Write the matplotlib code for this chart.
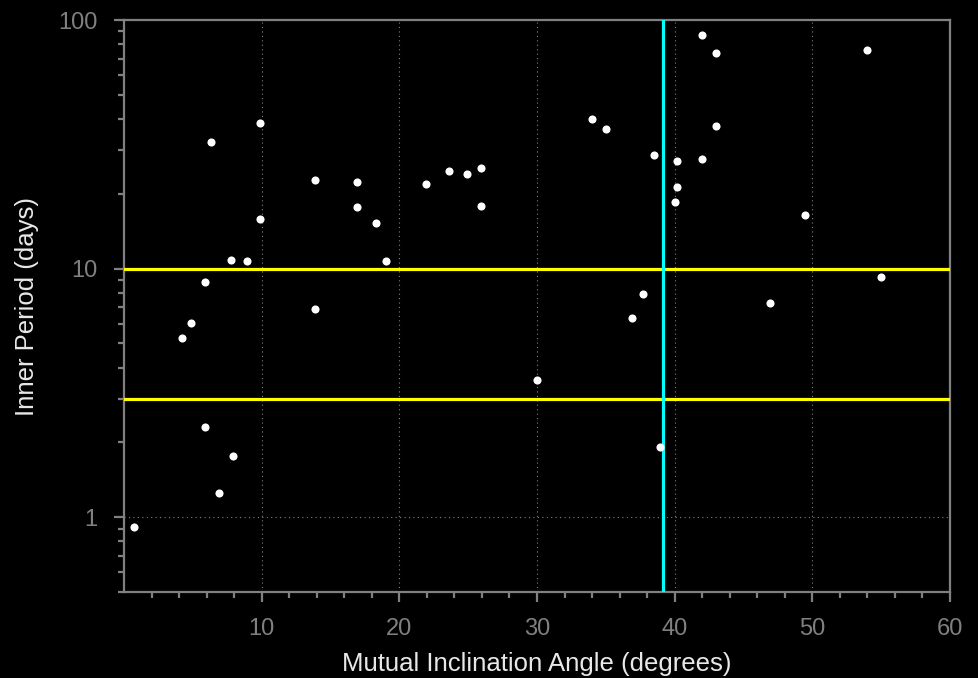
import matplotlib
matplotlib.use('Agg')
import matplotlib.pyplot as plt
import numpy as np
from matplotlib.ticker import LogLocator, FixedLocator, NullFormatter

# mutual inclination angle (degrees) and inner period (days)
inclination = [0.7, 4.2, 4.9, 5.9, 5.9, 6.3, 6.9, 7.9, 7.8, 8.9,
               9.9, 9.9, 13.9, 13.9, 16.9, 16.9, 18.3, 19.0, 21.9, 23.6,
               24.9, 25.9, 25.9, 30.0, 34.0, 35.0, 38.5, 36.9, 37.7, 38.9,
               42.0, 43.0, 54.0, 43.0, 40.2, 42.0, 40.2, 40.0, 49.5, 55.0,
               46.9]
inner_period = [0.91, 5.25, 6.06, 8.8, 2.30, 32.3, 1.25, 1.77, 10.8, 10.7,
                38.6, 15.9, 22.7, 6.85, 22.2, 17.7, 15.3, 10.7, 21.9, 24.6,
                24.1, 25.4, 17.9, 3.55, 39.9, 36.6, 28.7, 6.3, 7.9, 1.91,
                87.3, 73.5, 76.0, 37.5, 27.2, 27.7, 21.3, 18.6, 16.5, 9.29,
                7.3]

period_cuts = [3, 10]
angle_cut = 39.15

plt.rcParams['font.family'] = ['Liberation Sans', 'DejaVu Sans']

fig = plt.figure(figsize=(9.79, 6.78), dpi=100, facecolor='black')
ax = fig.add_axes([0.1267, 0.1268, 0.8437, 0.8437])
ax.set_facecolor('black')

grey = '#808080'

ax.scatter(inclination, inner_period, s=34, color='white', zorder=4, linewidths=0)
for p in period_cuts:
    ax.axhline(p, color='#ffff00', lw=2.3, zorder=3)
ax.axvline(angle_cut, color='#00ffff', lw=2.3, zorder=3)

ax.set_yscale('log')
ax.set_xlim(0, 60)
ax.set_ylim(0.5, 100)

ax.xaxis.set_major_locator(FixedLocator([10, 20, 30, 40, 50, 60]))
ax.xaxis.set_minor_locator(FixedLocator([x for x in range(2, 60, 2) if x % 10 != 0]))
ax.yaxis.set_major_locator(FixedLocator([1, 10, 100]))
ax.yaxis.set_minor_locator(LogLocator(base=10, subs=np.arange(2, 10)))
ax.yaxis.set_minor_formatter(NullFormatter())
ax.set_yticklabels(['1', '10', '100'])

ax.grid(True, which='major', color=grey, linestyle=(0, (1, 3)), lw=0.8, zorder=1)

for s in ax.spines.values():
    s.set_color(grey)
    s.set_linewidth(1.6)

ax.tick_params(which='major', direction='out', length=7, width=1.6, color=grey,
               labelcolor=grey, labelsize=17, pad=12)
ax.tick_params(which='minor', direction='out', length=4, width=1.6, color=grey)

ax.set_xlabel('Mutual Inclination Angle (degrees)', color='#e8e8e8', fontsize=18.5, labelpad=8)
ax.set_ylabel('Inner Period (days)', color='#e8e8e8', fontsize=18.5, labelpad=14)

fig.savefig('out.png', dpi=100, facecolor='black')
